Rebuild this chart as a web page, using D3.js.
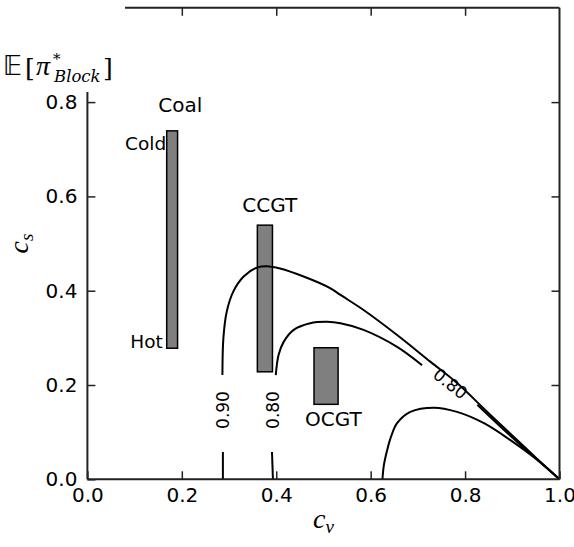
<!DOCTYPE html>
<html>
<head>
<meta charset="utf-8">
<script src="https://cdn.jsdelivr.net/npm/d3@7"></script>
<style>
  body { margin: 0; background: #fff; }
  svg { display: block; }
  text { font-family: "DejaVu Sans", sans-serif; fill: #000; }
</style>
</head>
<body>
<script>
// ---------- data ----------
const techs = ["Coal", "CCGT", "OCGT"];
const cvMin = [0.168, 0.360, 0.480];
const cvMax = [0.191, 0.392, 0.531];
const csMin = [0.278, 0.228, 0.159];
const csMax = [0.739, 0.539, 0.279];

const xTicks = [0, 0.2, 0.4, 0.6, 0.8, 1.0];
const yTicks = [0, 0.2, 0.4, 0.6, 0.8];

// contour 0.90 (segments split where the inline label sits)
const c90a = [[0.287, 0], [0.287, 0.058]];
const c90b = [[0.286, 0.221], [0.288, 0.299], [0.295, 0.355], [0.309, 0.398], [0.331, 0.430],
              [0.359, 0.449], [0.380, 0.452], [0.408, 0.447], [0.458, 0.430], [0.515, 0.405],
              [0.536, 0.391], [0.585, 0.359], [0.656, 0.306], [0.727, 0.249], [0.783, 0.204],
              [0.847, 0.143], [0.900, 0.093], [0.950, 0.046], [1.0, 0]];
// contour 0.80
const c80a = [[0.393, 0], [0.391, 0.058]];
const c80b = [[0.399, 0.221], [0.405, 0.264], [0.416, 0.292], [0.437, 0.317], [0.472, 0.331],
              [0.508, 0.334], [0.536, 0.331], [0.585, 0.317], [0.656, 0.281], [0.709, 0.242]];
const c80c = [[0.826, 0.158], [0.882, 0.105], [0.940, 0.053], [1.0, 0]];
// innermost contour (unlabelled)
const c70 = [[0.625, 0], [0.628, 0.030], [0.635, 0.062], [0.643, 0.090], [0.656, 0.119],
             [0.684, 0.143], [0.734, 0.152], [0.783, 0.143], [0.840, 0.119], [0.896, 0.083],
             [0.953, 0.041], [1.0, 0]];

const contourLabels = ["0.90", "0.80", "0.80"];
const contourLabelPos = [[0.287, 0.147], [0.392, 0.147], [0.769, 0.203]];
const contourLabelRot = [-90, -90, 38];

const techLabelPos = [[0.150, 0.780], [0.328, 0.567], [0.461, 0.112]];

// ---------- layout ----------
const W = 574, H = 547;
const x = d3.scaleLinear().domain([0, 1]).range([87.4, 559.5]);
const y = d3.scaleLinear().domain([0, 1]).range([479.3, 7.8]);

const svg = d3.select("body").append("svg").attr("width", W).attr("height", H);

// bars
svg.append("g").selectAll("rect").data(techs).join("rect")
  .attr("x", (d, i) => x(cvMin[i]))
  .attr("y", (d, i) => y(csMax[i]))
  .attr("width", (d, i) => x(cvMax[i]) - x(cvMin[i]))
  .attr("height", (d, i) => y(csMin[i]) - y(csMax[i]))
  .attr("fill", "#7f7f7f").attr("stroke", "#000").attr("stroke-width", 1.5);

// contours
const line = d3.line().x(d => x(d[0])).y(d => y(d[1])).curve(d3.curveCatmullRom.alpha(0.5));
svg.append("g").selectAll("path").data([c90a, c90b, c80a, c80b, c80c, c70]).join("path")
  .attr("d", line).attr("fill", "none").attr("stroke", "#000").attr("stroke-width", 2);

// contour labels
svg.append("g").selectAll("text").data(contourLabels).join("text")
  .attr("transform", (d, i) => `translate(${x(contourLabelPos[i][0])},${y(contourLabelPos[i][1])}) rotate(${contourLabelRot[i]})`)
  .attr("text-anchor", "middle").attr("dy", "0.36em")
  .style("font-size", "17px").text(d => d);

// tech labels
svg.append("g").selectAll("text").data(techs).join("text")
  .attr("x", (d, i) => x(techLabelPos[i][0])).attr("y", (d, i) => y(techLabelPos[i][1]))
  .style("font-size", "20px").text(d => d);
svg.append("text").attr("x", x(cvMin[0]) - 0.5).attr("y", y(csMax[0]) + 19)
  .attr("text-anchor", "end").style("font-size", "18.5px").text("Cold");
svg.append("text").attr("x", x(cvMin[0]) - 4).attr("y", y(csMin[0]))
  .attr("text-anchor", "end").style("font-size", "18.5px").text("Hot");

// axes (inward ticks)
const gB = svg.append("g").attr("transform", `translate(0,${y(0)})`)
  .call(d3.axisBottom(x).tickValues(xTicks).tickFormat(d3.format(".1f")).tickSize(-8).tickPadding(9));
const gL = svg.append("g").attr("transform", `translate(${x(0)},0)`)
  .call(d3.axisLeft(y).tickValues(yTicks).tickFormat(d3.format(".1f")).tickSize(-8).tickPadding(10));
const gT = svg.append("g").attr("transform", `translate(0,${y(1)})`)
  .call(d3.axisTop(x).tickValues(xTicks.filter(v => x(v) > 125 && v < 1)).tickFormat("").tickSize(-8));
const gR = svg.append("g").attr("transform", `translate(${x(1)},0)`)
  .call(d3.axisRight(y).tickValues([0.2, 0.4, 0.6, 0.8]).tickFormat("").tickSize(-8));
[gB, gL, gT, gR].forEach(g => {
  g.select(".domain").remove();
  g.selectAll(".tick line").attr("stroke", "#222").attr("stroke-width", 1.5);
  g.selectAll(".tick text").style("font-size", "20px").style("font-family", "DejaVu Sans").attr("fill", "#000");
});

// spines
const sp = svg.append("g").attr("stroke", "#222").attr("stroke-width", 2).attr("fill", "none");
sp.append("line").attr("x1", x(0)).attr("x2", x(0)).attr("y1", 92).attr("y2", y(0));
sp.append("line").attr("x1", x(0)).attr("x2", x(1)).attr("y1", y(0)).attr("y2", y(0));
sp.append("line").attr("x1", x(1)).attr("x2", x(1)).attr("y1", y(1)).attr("y2", y(0));
sp.append("line").attr("x1", 125).attr("x2", x(1)).attr("y1", y(1)).attr("y2", y(1));

// axis labels (math style)
const xl = svg.append("text").attr("x", x(0.5)).attr("y", 528).attr("text-anchor", "middle")
  .style("font-family", "'Liberation Serif', serif").style("font-style", "italic").style("font-size", "28px");
xl.append("tspan").text("c");
xl.append("tspan").attr("dy", 5).style("font-size", "19px").text("v");

const yl = svg.append("text").attr("transform", `translate(28,${(y(0) + y(1)) / 2}) rotate(-90)`)
  .attr("text-anchor", "middle")
  .style("font-family", "'Liberation Serif', serif").style("font-style", "italic").style("font-size", "28px");
yl.append("tspan").text("c");
yl.append("tspan").attr("dy", 5).style("font-size", "19px").text("s");

// title E[pi*_Block]
const t = svg.append("g");
t.append("text").attr("x", 3).attr("y", 75).style("font-size", "26px").text("\u{1D53C}");
t.append("text").attr("x", 25).attr("y", 76).style("font-family", "'DejaVu Serif', serif").style("font-size", "25px").text("[");
t.append("text").attr("x", 36).attr("y", 75).style("font-family", "'Liberation Serif', serif").style("font-style", "italic").style("font-size", "28px").text("π");
t.append("text").attr("x", 53).attr("y", 64).style("font-family", "'DejaVu Serif', serif").style("font-size", "15px").text("*");
t.append("text").attr("x", 54).attr("y", 82).style("font-family", "'DejaVu Serif', serif").style("font-style", "italic").style("font-size", "16.5px").text("Block");
t.append("text").attr("x", 103).attr("y", 76).style("font-family", "'DejaVu Serif', serif").style("font-size", "25px").text("]");
</script>
</body>
</html>
